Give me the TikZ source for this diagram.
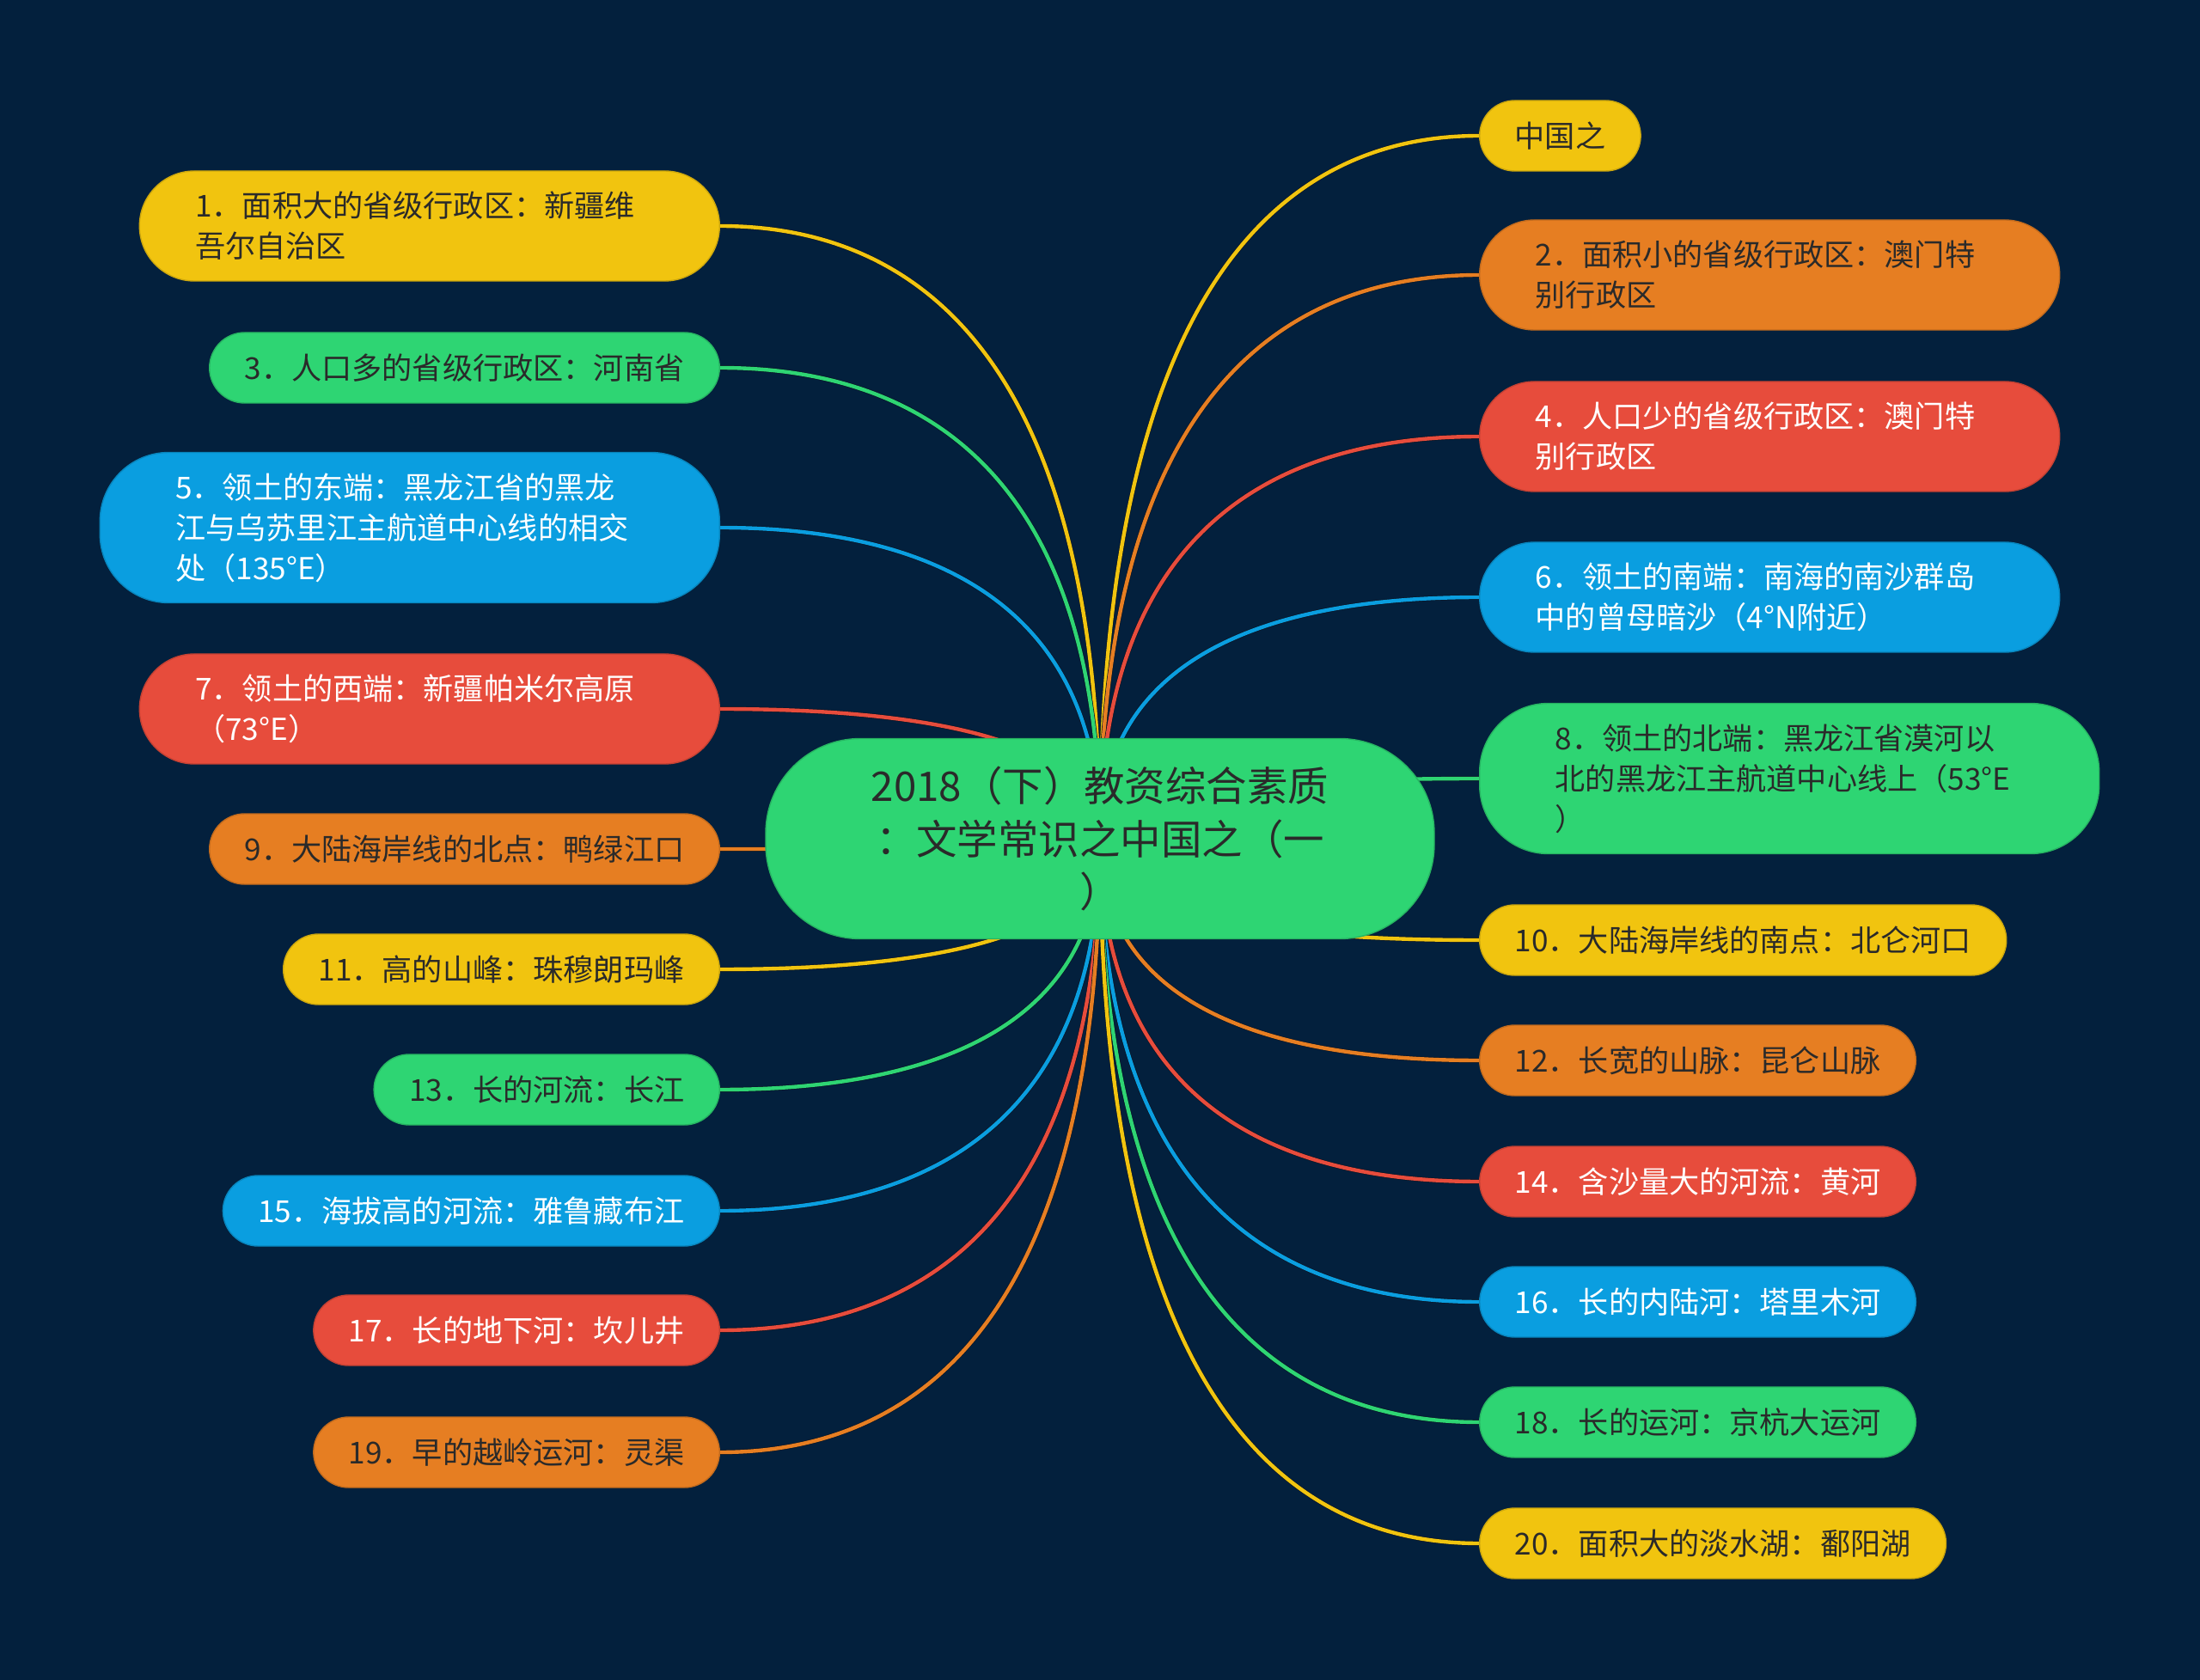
\documentclass[tikz,border=0pt]{standalone}
\usepackage{fontspec}
\setmainfont{Noto Sans CJK SC}
\usetikzlibrary{calc}
\definecolor{canvas}{HTML}{03203D}
\definecolor{edgeshade}{HTML}{0A1626}
\definecolor{mapyellow}{HTML}{F1C40F}
\definecolor{maporange}{HTML}{E67E22}
\definecolor{mapred}{HTML}{E74C3C}
\definecolor{mapblue}{HTML}{0A9EE0}
\definecolor{mapgreen}{HTML}{2ED573}
\definecolor{inkdark}{HTML}{2A2A2A}
\pgfdeclarelayer{canvaslayer}
\pgfdeclarelayer{edgelayer}
\pgfsetlayers{canvaslayer,edgelayer,main}
\tikzset{
  leaf/.style={rectangle,rounded corners=0.41cm,minimum height=0.82cm,inner xsep=0.41cm,inner ysep=0pt,
    font=\fontsize{10}{13.4}\selectfont},
  leaftwo/.style={leaf,rounded corners=0.64cm,minimum height=1.28cm,inner xsep=0.65cm,text width=5.45cm,align=left},
  leafthree/.style={leaf,rounded corners=0.8cm,minimum height=1.75cm,inner xsep=0.88cm,text width=5.45cm,align=left},
  yel/.style={fill=mapyellow,draw=mapyellow!85!black,line width=0.4pt,text=inkdark},
  ora/.style={fill=maporange,draw=maporange!85!black,line width=0.4pt,text=inkdark},
  redd/.style={fill=mapred,draw=mapred!85!black,line width=0.4pt,text=white},
  blu/.style={fill=mapblue,draw=mapblue!85!black,line width=0.4pt,text=white},
  grn/.style={fill=mapgreen,draw=mapgreen!85!black,line width=0.4pt,text=inkdark},
  branch/.style={draw=edgeshade,line width=0.2pt,double=#1,double distance=1.25pt}
}
\begin{document}
\begin{tikzpicture}
  \begin{pgfonlayer}{canvaslayer}
    \fill[canvas] (0,0) rectangle (25.6,-19.55);
  \end{pgfonlayer}
  \useasboundingbox (0,0) rectangle (25.6,-19.55);

  % centre topic
  \node[fill=mapgreen,draw=mapgreen!85!black,text=inkdark,rounded corners=1.1cm,minimum width=7.78cm,minimum height=2.33cm,
    text width=5.6cm,align=center,font=\fontsize{13.5}{17.6}\selectfont] (root) at (12.80,-9.76)
    {2018（下）教资综合素质\\：文学常识之中国之（一\\）};

  % left branches
  \node[leaftwo,yel,anchor=east] (n1) at (8.38,-2.63) {1．面积大的省级行政区：新疆维\\吾尔自治区};
  \node[leaf,grn,anchor=east] (n3) at (8.38,-4.28) {3．人口多的省级行政区：河南省};
  \node[leafthree,blu,anchor=east] (n5) at (8.38,-6.14) {5．领土的东端：黑龙江省的黑龙\\江与乌苏里江主航道中心线的相交\\处（135°E）};
  \node[leaftwo,redd,anchor=east] (n7) at (8.38,-8.25) {7．领土的西端：新疆帕米尔高原\\（73°E）};
  \node[leaf,ora,anchor=east] (n9) at (8.38,-9.88) {9．大陆海岸线的北点：鸭绿江口};
  \node[leaf,yel,anchor=east] (n11) at (8.38,-11.28) {11．高的山峰：珠穆朗玛峰};
  \node[leaf,grn,anchor=east] (n13) at (8.38,-12.68) {13．长的河流：长江};
  \node[leaf,blu,anchor=east] (n15) at (8.38,-14.09) {15．海拔高的河流：雅鲁藏布江};
  \node[leaf,redd,anchor=east] (n17) at (8.38,-15.48) {17．长的地下河：坎儿井};
  \node[leaf,ora,anchor=east] (n19) at (8.38,-16.90) {19．早的越岭运河：灵渠};

  % right branches
  \node[leaf,yel,anchor=west] (n0) at (17.21,-1.58) {中国之};
  \node[leaftwo,ora,anchor=west] (n2) at (17.21,-3.20) {2．面积小的省级行政区：澳门特\\别行政区};
  \node[leaftwo,redd,anchor=west] (n4) at (17.21,-5.08) {4．人口少的省级行政区：澳门特\\别行政区};
  \node[leaftwo,blu,anchor=west] (n6) at (17.21,-6.95) {6．领土的南端：南海的南沙群岛\\中的曾母暗沙（4°N附近）};
  \node[leafthree,grn,anchor=west] (n8) at (17.21,-9.06) {8．领土的北端：黑龙江省漠河以\\北的黑龙江主航道中心线上（53°E\\）};
  \node[leaf,yel,anchor=west] (n10) at (17.21,-10.94) {10．大陆海岸线的南点：北仑河口};
  \node[leaf,ora,anchor=west] (n12) at (17.21,-12.34) {12．长宽的山脉：昆仑山脉};
  \node[leaf,redd,anchor=west] (n14) at (17.21,-13.75) {14．含沙量大的河流：黄河};
  \node[leaf,blu,anchor=west] (n16) at (17.21,-15.15) {16．长的内陆河：塔里木河};
  \node[leaf,grn,anchor=west] (n18) at (17.21,-16.55) {18．长的运河：京杭大运河};
  \node[leaf,yel,anchor=west] (n20) at (17.21,-17.96) {20．面积大的淡水湖：鄱阳湖};

  % connectors
  \begin{pgfonlayer}{edgelayer}
    \foreach \leafname/\leafcolor/\side in {n1/mapyellow/east,n3/mapgreen/east,n5/mapblue/east,n7/mapred/east,
        n9/maporange/east,n11/mapyellow/east,n13/mapgreen/east,n15/mapblue/east,n17/mapred/east,n19/maporange/east,
        n0/mapyellow/west,n2/maporange/west,n4/mapred/west,n6/mapblue/west,n8/mapgreen/west,n10/mapyellow/west,
        n12/maporange/west,n14/mapred/west,n16/mapblue/west,n18/mapgreen/west,n20/mapyellow/west}
      \draw[branch=\leafcolor] (\leafname.\side)
        .. controls ($(\leafname.\side)!0.5!(root.center |- \leafname.\side)$)
        and ($(root.center |- \leafname.\side)!0.2!(root.center)$) .. (root.center);
  \end{pgfonlayer}
\end{tikzpicture}
\end{document}
